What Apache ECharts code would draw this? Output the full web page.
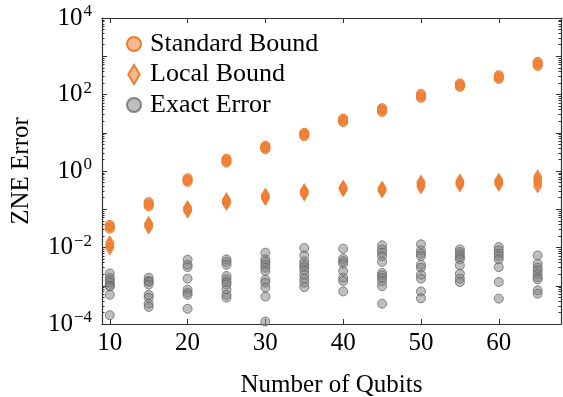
<!DOCTYPE html>
<html><head><meta charset="utf-8">
<script src="https://cdn.jsdelivr.net/npm/echarts@6/dist/echarts.min.js"></script>
<style>html,body{margin:0;padding:0;background:#fff}#c{width:563px;height:397px}</style>
</head><body><div id="c"></div>
<script>
const qubits = [10, 15, 20, 25, 30, 35, 40, 45, 50, 55, 60, 65];
const standardBound = [
  [0.031, 0.034, 0.036, 0.039],
  [0.12, 0.13, 0.14, 0.155],
  [0.52, 0.56, 0.6, 0.65],
  [1.65, 1.8, 1.95, 2.1],
  [3.7, 4.0, 4.3, 4.6],
  [8.2, 8.8, 9.4, 10],
  [19, 20.5, 22, 23.5],
  [35, 38, 41, 44],
  [82, 88, 95, 104],
  [158, 170, 182, 195],
  [255, 275, 295, 320],
  [560, 610, 660, 720]
];
const localBound = [
  [0.0095, 0.011, 0.012, 0.0135],
  [0.034, 0.037, 0.04, 0.043],
  [0.088, 0.095, 0.103, 0.112],
  [0.14, 0.15, 0.165, 0.18],
  [0.19, 0.2, 0.22, 0.235],
  [0.25, 0.27, 0.29, 0.31],
  [0.32, 0.34, 0.36, 0.38],
  [0.3, 0.32, 0.34, 0.36],
  [0.38, 0.42, 0.47, 0.52],
  [0.43, 0.47, 0.51, 0.56],
  [0.45, 0.49, 0.53, 0.58],
  [0.4, 0.47, 0.55, 0.63, 0.72]
];
const exactError = [
  [0.0021, 0.0016, 0.0014, 0.0012, 0.001, 0.00095, 0.00058, 0.00017],
  [0.00162, 0.00135, 0.00125, 0.00108, 0.00058, 0.00049, 0.00034, 0.00028],
  [0.0048, 0.00355, 0.00308, 0.00153, 0.00079, 0.00066, 0.00058, 0.00025],
  [0.0049, 0.0042, 0.00355, 0.00179, 0.00147, 0.00125, 0.00108, 0.0008, 0.00058, 0.00049],
  [0.0073, 0.0049, 0.0042, 0.00355, 0.00296, 0.00242, 0.00144, 0.0012, 0.00089, 0.00052, 0.000116],
  [0.0097, 0.0062, 0.0043, 0.00355, 0.00308, 0.00252, 0.00194, 0.00153, 0.0012, 0.00092],
  [0.0093, 0.0051, 0.0044, 0.00377, 0.00242, 0.00162, 0.00133, 0.00071],
  [0.0114, 0.0089, 0.0073, 0.0059, 0.0042, 0.00214, 0.00186, 0.00158, 0.0013, 0.00098, 0.00034],
  [0.0121, 0.0084, 0.0069, 0.006, 0.00355, 0.00296, 0.00194, 0.00153, 0.00071, 0.00047],
  [0.0089, 0.0076, 0.0065, 0.0056, 0.0049, 0.0034, 0.00206, 0.00153, 0.00125],
  [0.0103, 0.0084, 0.0069, 0.0059, 0.0049, 0.00308, 0.00125, 0.00046],
  [0.0062, 0.00377, 0.00296, 0.00252, 0.00206, 0.00168, 0.00147, 0.00076, 0.00062]
];
const xTickLabels = [10, 20, 30, 40, 50, 60];
const yLabelExponents = [-4, -2, 0, 2, 4];
const yMajorExponents = [-4, -3, -2, -1, 0, 1, 2, 3, 4];

const FONT = "'Liberation Serif', 'DejaVu Serif', serif";
const AX = '#333';
const ORANGE = '#EE7D31';
const yMinor = [];
for (let n = -4; n < 4; n++) for (let k = 2; k <= 9; k++) yMinor.push(n + Math.log10(k));

function pairs(vals) {
  const out = [];
  qubits.forEach((q, i) => vals[i].forEach(v => out.push([q, v])));
  return out;
}
const diamond = 'path://M0,-10L6,0L0,10L-6,0Z';

function tickAxis(pos, values, len, showLine) {
  return {
    type: 'value', min: -4, max: 4, position: pos,
    axisLine: {show: showLine, onZero: false, lineStyle: {color: AX, width: 1.2}},
    axisTick: {show: true, inside: true, length: len, customValues: values, lineStyle: {color: AX, width: 1}},
    axisLabel: {show: false}, splitLine: {show: false}
  };
}
const supStr = v => (v < 0 ? '\u2212' + (-v) : String(v));

const yLeftMajor = tickAxis('left', yMajorExponents, 5, true);
yLeftMajor.axisLabel = {
  show: true, customValues: yLabelExponents, margin: 10,
  formatter: v => '{b|10}{s|' + supStr(Math.round(v)) + '}',
  rich: {
    b: {fontFamily: FONT, fontSize: 25, color: '#000'},
    s: {fontFamily: FONT, fontSize: 17, color: '#000', padding: [0, 0, 12, 1]}
  }
};
yLeftMajor.name = 'ZNE Error';
yLeftMajor.nameLocation = 'middle';
yLeftMajor.nameGap = 68;
yLeftMajor.nameTextStyle = {fontFamily: FONT, fontSize: 25, color: '#000'};

const chart = echarts.init(document.getElementById('c'), null, {renderer: 'canvas'});
chart.setOption({
  animation: false,
  backgroundColor: '#fff',
  grid: {left: 102, right: 2, top: 18, bottom: 73, containLabel: false, outerBoundsMode: 'none'},
  legend: {
    orient: 'vertical', left: 121, top: 26,
    itemWidth: 14, itemHeight: 19, itemGap: 4.5,
    textStyle: {fontFamily: FONT, fontSize: 26, color: '#000', padding: [0, 0, 0, 4]},
    data: [
      {name: 'Standard Bound', icon: 'circle'},
      {name: 'Local Bound', icon: diamond},
      {name: 'Exact Error', icon: 'circle'}
    ]
  },
  xAxis: [
    {
      type: 'value', min: 9, max: 68, position: 'bottom',
      axisLine: {show: true, onZero: false, lineStyle: {color: AX, width: 1.2}},
      axisTick: {show: true, inside: true, length: 5, customValues: xTickLabels, lineStyle: {color: AX}},
      axisLabel: {customValues: xTickLabels, margin: 7, fontFamily: FONT, fontSize: 25, color: '#000'},
      splitLine: {show: false},
      name: 'Number of Qubits', nameLocation: 'middle', nameGap: 49,
      nameTextStyle: {fontFamily: FONT, fontSize: 25, color: '#000'}
    },
    {
      type: 'value', min: 9, max: 68, position: 'top',
      axisLine: {show: true, onZero: false, lineStyle: {color: AX, width: 1.2}},
      axisTick: {show: true, inside: true, length: 5, customValues: xTickLabels, lineStyle: {color: AX}},
      axisLabel: {show: false}, splitLine: {show: false}
    }
  ],
  yAxis: [
    {type: 'log', logBase: 10, min: 1e-4, max: 1e4, show: false, axisLine: {onZero: false}, splitLine: {show: false}},
    yLeftMajor,
    tickAxis('left', yMinor, 2.5, false),
    tickAxis('right', yMajorExponents, 5, true),
    tickAxis('right', yMinor, 2.5, false)
  ],
  series: [
    {
      name: 'Standard Bound', type: 'scatter', xAxisIndex: 0, yAxisIndex: 0,
      symbol: 'circle', symbolSize: 9,
      itemStyle: {color: 'rgba(238,125,49,0.55)', borderColor: ORANGE, borderWidth: 1, opacity: 1},
      data: pairs(standardBound)
    },
    {
      name: 'Local Bound', type: 'scatter', xAxisIndex: 0, yAxisIndex: 0,
      symbol: diamond, symbolSize: [8, 13],
      itemStyle: {color: 'rgba(238,125,49,0.55)', borderColor: ORANGE, borderWidth: 1, opacity: 1},
      data: pairs(localBound)
    },
    {
      name: 'Exact Error', type: 'scatter', xAxisIndex: 0, yAxisIndex: 0,
      symbol: 'circle', symbolSize: 9,
      itemStyle: {color: 'rgba(128,128,128,0.5)', borderColor: 'rgba(100,100,100,0.75)', borderWidth: 1, opacity: 1},
      data: pairs(exactError)
    }
  ]
});
</script></body></html>
